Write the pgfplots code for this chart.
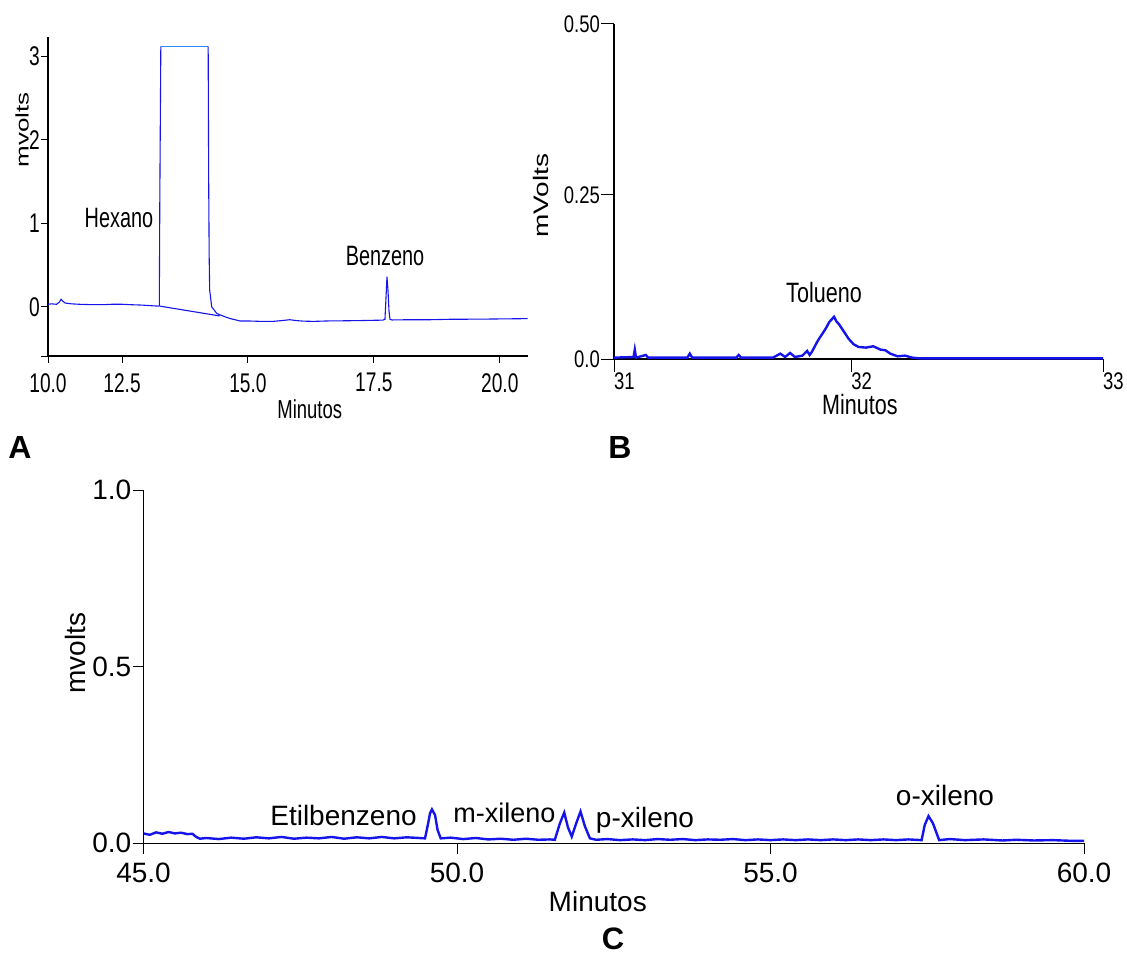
\documentclass[border=0pt]{standalone}
\usepackage{pgfplots}
\pgfplotsset{compat=1.18}
\usepackage{fontspec}
\setmainfont{Liberation Sans}
\newfontfamily\nA[FakeStretch=0.71]{Liberation Sans}
\newfontfamily\nB[FakeStretch=0.77]{Liberation Sans}
\definecolor{trace}{RGB}{20,20,235}
\definecolor{toptrace}{RGB}{40,140,255}
\pgfplotsset{
  chrom/.style={
    scale only axis,
    axis x line*=bottom, axis y line*=left,
    tick align=outside,
    tick style={black, line width=1pt},
    ticklabel style={inner sep=1pt},
    xlabel style={anchor=base},
    ylabel style={anchor=center},
    /pgf/number format/assume math mode=true,
  }
}
\begin{document}
\begin{tikzpicture}
\path[use as bounding box] (0pt,0pt) rectangle (1127pt,-955pt);

% ---------------- Panel A ----------------
\begin{axis}[chrom,
  width=479.5pt, height=318.7pt,
  at={(48pt,-356pt)}, anchor=south west,
  xmin=11.03, xmax=20.55, ymin=-0.59, ymax=3.23,
  axis line style={line width=2.6pt, black},
  major tick length=7pt,
  xtick={11.03,12.5,15,17.5,20}, xticklabels={10.0,12.5,15.0,17.5,20.0},
  ytick={-0.59,0,1,2,3}, yticklabels={,0,1,2,3},
  ticklabel style={font=\nA\fontsize{27}{30}\selectfont},
  xticklabel style={yshift=-9pt},
  xlabel={Minutos},
  xlabel style={font=\nA\fontsize{26}{30}\selectfont, at={(axis description cs:0.546,-0.195)}},
  ylabel={\scalebox{1}[0.7]{mvolts}},
  ylabel style={font=\fontsize{26}{30}\selectfont, at={(axis description cs:-0.054,0.709)}},
]
\addplot[trace, line width=1.1pt] coordinates {
(11.03,0.03)(11.10,0.035)(11.20,0.03)(11.26,0.06)(11.29,0.09)(11.32,0.07)(11.37,0.045)
(11.50,0.035)(11.65,0.03)(11.90,0.025)(12.13,0.025)(12.30,0.03)(12.50,0.03)(12.67,0.025)
(12.90,0.02)(13.10,0.012)(13.22,0.008)(13.24,0.01)(13.25,1.3)(13.27,3.12)
};
\addplot[toptrace, line width=1.1pt] coordinates {(13.27,3.12)(14.21,3.12)};
\addplot[trace, line width=1.1pt] coordinates {
(14.21,3.12)(14.22,1.52)(14.23,0.6)(14.24,0.2)(14.28,0.0)(14.38,-0.08)(14.50,-0.11)
(14.64,-0.14)(14.84,-0.17)(15.00,-0.17)(15.26,-0.175)(15.50,-0.175)(15.68,-0.165)
(15.83,-0.155)(15.95,-0.165)(16.10,-0.172)(16.30,-0.175)(16.57,-0.17)(16.90,-0.168)
(17.26,-0.165)(17.50,-0.162)(17.68,-0.16)(17.72,-0.15)(17.74,0.1)(17.76,0.36)
(17.78,0.2)(17.80,-0.05)(17.82,-0.15)(17.86,-0.158)(18.20,-0.155)(18.62,-0.155)
(19.00,-0.15)(19.65,-0.148)(20.10,-0.145)(20.55,-0.142)
};
\addplot[trace, line width=1.1pt] coordinates {(13.25,0.008)(14.44,-0.11)};
\end{axis}

% ---------------- Panel B ----------------
\begin{axis}[chrom,
  width=489pt, height=335pt,
  at={(614pt,-359pt)}, anchor=south west,
  xmin=31, xmax=33, ymin=0, ymax=0.5,
  axis line style={line width=1.5pt, black},
  major tick length=13pt,
  xtick={31,31.97,33}, xticklabels={31,32,33},
  ytick={0,0.245,0.5}, yticklabels={0.0,0.25,0.50},
  ticklabel style={font=\nB\fontsize{24}{28}\selectfont},
  xticklabel style={anchor=north west, xshift=-1pt},
  xlabel={Minutos},
  xlabel style={font=\nB\fontsize{28}{32}\selectfont, at={(axis description cs:0.503,-0.167)}},
  ylabel={\scalebox{1}[0.75]{mVolts}},
  ylabel style={font=\fontsize{28}{32}\selectfont, at={(axis description cs:-0.149,0.487)}},
]
\addplot[trace, line width=2.4pt] coordinates {
(31.00,0.002)(31.08,0.003)(31.085,0.014)(31.09,0.002)(31.13,0.006)(31.14,0.002)
(31.30,0.002)(31.31,0.008)(31.32,0.002)(31.50,0.002)(31.51,0.006)(31.52,0.002)
(31.65,0.002)(31.68,0.008)(31.70,0.003)(31.72,0.009)(31.74,0.003)(31.77,0.005)
(31.79,0.012)(31.80,0.006)(31.81,0.011)(31.83,0.025)(31.84,0.031)(31.86,0.042)
(31.87,0.048)(31.88,0.055)(31.90,0.063)(31.91,0.056)(31.92,0.052)(31.94,0.041)
(31.96,0.030)(31.98,0.022)(32.00,0.018)(32.03,0.017)(32.06,0.019)(32.09,0.014)
(32.11,0.013)(32.13,0.008)(32.16,0.004)(32.19,0.005)(32.22,0.002)(32.25,0.001)
(33.00,0.001)
};
\end{axis}

% ---------------- Panel C ----------------
\begin{axis}[chrom,
  width=940.5pt, height=353.3pt,
  at={(143.5pt,-843.3pt)}, anchor=south west,
  xmin=45, xmax=60, ymin=0, ymax=1,
  axis line style={line width=1.3pt, black},
  major tick length=11pt,
  xtick={45,50,55,60}, xticklabels={45.0,50.0,55.0,60.0},
  ytick={0,0.5,1}, yticklabels={0.0,0.5,1.0},
  ticklabel style={font=\fontsize{28}{32}\selectfont},
  xticklabel style={yshift=-7pt},
  xlabel={Minutos},
  xlabel style={font=\fontsize{28}{32}\selectfont, at={(axis description cs:0.483,-0.194)}},
  ylabel={mvolts},
  ylabel style={font=\fontsize{28}{32}\selectfont, at={(axis description cs:-0.0728,0.539)}},
]
\addplot[trace, line width=2.4pt] coordinates {
(45.00,0.028)(45.10,0.024)(45.20,0.031)(45.30,0.027)(45.40,0.032)(45.50,0.028)
(45.60,0.030)(45.70,0.026)(45.78,0.027)(45.84,0.018)(45.90,0.013)(46.00,0.015)
(46.20,0.012)(46.40,0.016)(46.60,0.013)(46.80,0.017)(47.00,0.014)(47.20,0.018)
(47.40,0.013)(47.60,0.016)(47.80,0.014)(48.00,0.018)(48.20,0.013)(48.40,0.017)
(48.60,0.014)(48.80,0.018)(49.00,0.014)(49.20,0.017)(49.40,0.015)(49.49,0.014)
(49.54,0.057)(49.57,0.085)(49.60,0.096)(49.65,0.080)(49.69,0.038)(49.74,0.014)
(49.90,0.016)(50.10,0.012)(50.30,0.015)(50.50,0.011)(50.70,0.013)(50.90,0.010)
(51.10,0.013)(51.30,0.010)(51.48,0.011)(51.56,0.010)(51.64,0.056)(51.71,0.087)
(51.77,0.045)(51.83,0.019)(51.90,0.056)(51.97,0.090)(52.04,0.048)(52.12,0.014)
(52.22,0.010)(52.40,0.012)(52.60,0.009)(52.80,0.011)(53.00,0.009)(53.20,0.012)
(53.40,0.010)(53.60,0.012)(53.80,0.009)(54.00,0.011)(54.20,0.010)(54.40,0.012)
(54.60,0.009)(54.80,0.011)(55.00,0.009)(55.20,0.011)(55.40,0.009)(55.60,0.011)
(55.80,0.009)(56.00,0.011)(56.20,0.009)(56.40,0.011)(56.60,0.009)(56.80,0.011)
(57.00,0.009)(57.20,0.011)(57.41,0.009)(57.46,0.052)(57.52,0.077)(57.59,0.057)
(57.69,0.009)(57.86,0.012)(58.10,0.009)(58.40,0.011)(58.70,0.008)(58.92,0.010)
(59.20,0.008)(59.50,0.009)(59.80,0.007)(60.00,0.007)
};
\end{axis}

% ---------------- peak labels and panel letters ----------------
\node[font=\nA\fontsize{28}{32}\selectfont, anchor=base] at (119pt,-227pt) {Hexano};
\node[font=\nA\fontsize{28}{32}\selectfont, anchor=base] at (385pt,-265pt) {Benzeno};
\node[font=\nB\fontsize{28}{32}\selectfont, anchor=base] at (824pt,-302pt) {Tolueno};
\node[font=\fontsize{28}{32}\selectfont, anchor=base] at (343.5pt,-825pt) {Etilbenzeno};
\node[font=\fontsize{27}{32}\selectfont, anchor=base] at (504.5pt,-822pt) {m-xileno};
\node[font=\fontsize{28}{32}\selectfont, anchor=base] at (645pt,-827pt) {p-xileno};
\node[font=\fontsize{28}{32}\selectfont, anchor=base] at (945pt,-805pt) {o-xileno};
\node[font=\bfseries\fontsize{32}{36}\selectfont, anchor=base] at (20pt,-458pt) {A};
\node[font=\bfseries\fontsize{32}{36}\selectfont, anchor=base] at (620pt,-458pt) {B};
\node[font=\bfseries\fontsize{31}{36}\selectfont, anchor=base, inner sep=0pt] at (613pt,-949pt) {C};
\end{tikzpicture}
\end{document}
